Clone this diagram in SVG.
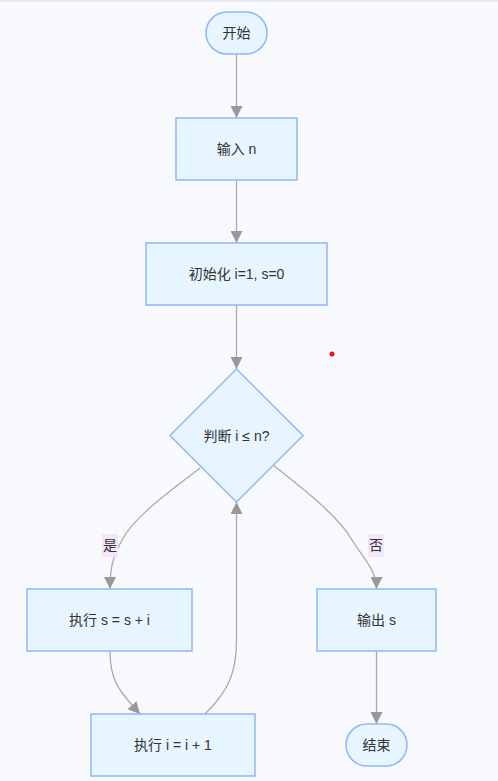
<svg xmlns="http://www.w3.org/2000/svg" width="498" height="781" viewBox="0 0 498 781">
<defs>
<style>
.node{fill:#e6f5ff;stroke:#8cb8f6;stroke-width:1.5}
.t{font-family:"Liberation Sans","Noto Sans CJK SC",sans-serif;font-size:14px;fill:#333;text-anchor:middle;dominant-baseline:central}
.e{fill:none;stroke:#aaaaaa;stroke-width:1.3}
.lb{fill:#f3e6fb}
</style>
<marker id="ah" viewBox="0 0 10 10" refX="10" refY="5" markerWidth="12" markerHeight="12" markerUnits="userSpaceOnUse" orient="auto">
<path d="M0,0 L10,5 L0,10 z" fill="#999999"/>
</marker>
</defs>
<rect x="0" y="0" width="498" height="781" fill="#f8f9fc"/>
<line x1="0" y1="1" x2="498" y2="1" stroke="#e4e6ea" stroke-width="1.5"/>
<g id="edges">
<path class="e" d="M236.5,54 L236.5,118" marker-end="url(#ah)"/>
<path class="e" d="M236.5,180 L236.5,243" marker-end="url(#ah)"/>
<path class="e" d="M236.5,305 L236.5,369" marker-end="url(#ah)"/>
<path class="e" d="M200,468 C175,488 135,515 122,540 C112,558 110,570 110,589" marker-end="url(#ah)"/>
<path class="e" d="M273,465 C298,485 338,515 352,540 C363,558 376.5,570 376.5,589" marker-end="url(#ah)"/>
<path class="e" d="M110,651 C110,680 118,690 140,714" marker-end="url(#ah)"/>
<path class="e" d="M205,714 C230,690 236.5,670 236.5,640 L236.5,502" marker-end="url(#ah)"/>
<path class="e" d="M376.5,651 L376.5,724" marker-end="url(#ah)"/>
<rect class="lb" x="102" y="534" width="16" height="23"/>
<text class="t" x="110" y="545">是</text>
<rect class="lb" x="368" y="534" width="16" height="23"/>
<text class="t" x="376" y="545">否</text>
</g>
<g id="start"><rect class="node" x="206" y="12" width="61" height="42" rx="21"/><text class="t" x="236.5" y="33">开始</text></g>
<g id="input"><rect class="node" x="176" y="118" width="121" height="62"/><text class="t" x="236.5" y="149">输入 n</text></g>
<g id="init"><rect class="node" x="146" y="243" width="181" height="62"/><text class="t" x="236.5" y="274">初始化 i=1, s=0</text></g>
<g id="cond"><path class="node" d="M236.5,369 L303,435.5 L236.5,502 L170,435.5 Z"/><text class="t" x="236.5" y="436">判断 i ≤ n?</text></g>
<g id="adds"><rect class="node" x="27" y="589" width="165" height="62"/><text class="t" x="109.5" y="620">执行 s = s + i</text></g>
<g id="output"><rect class="node" x="317" y="589" width="119" height="62"/><text class="t" x="376.5" y="620">输出 s</text></g>
<g id="inc"><rect class="node" x="91" y="714" width="164" height="62"/><text class="t" x="173" y="745">执行 i = i + 1</text></g>
<g id="end"><rect class="node" x="346" y="724" width="61" height="42" rx="21"/><text class="t" x="376.5" y="745">结束</text></g>
<circle cx="332" cy="354" r="2.5" fill="#e8141c"/>
</svg>
